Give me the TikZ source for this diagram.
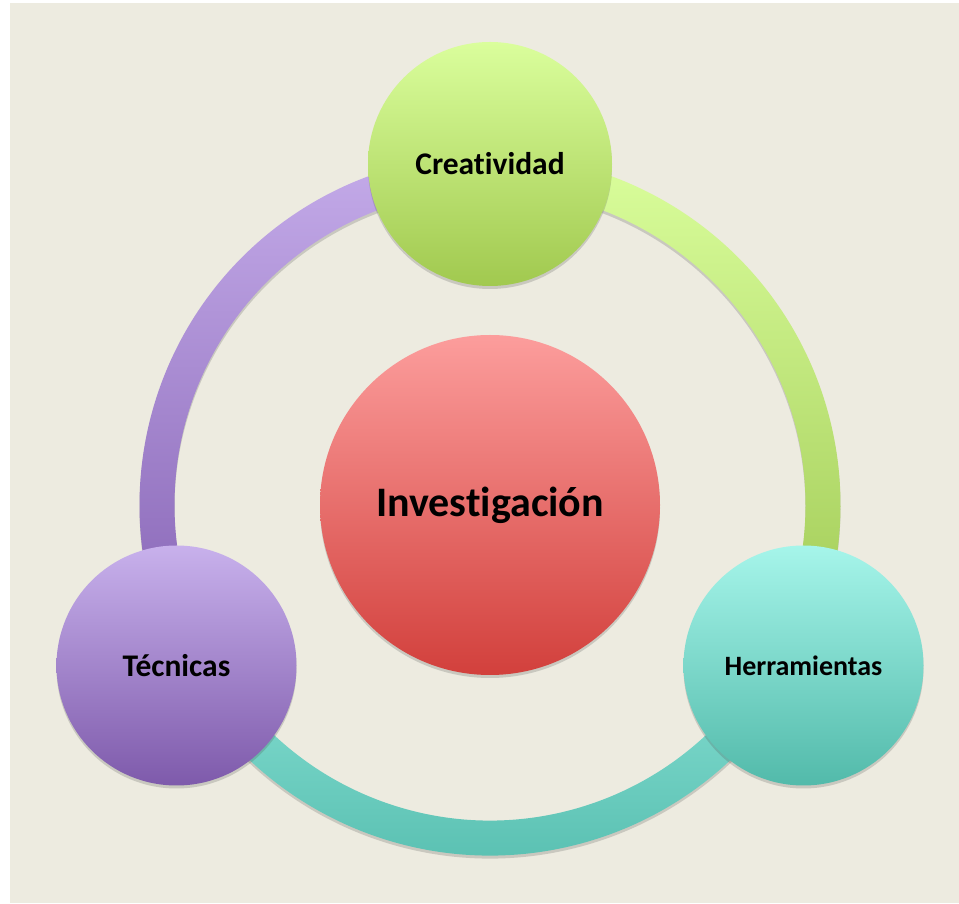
\documentclass[tikz,border=0pt]{standalone}
\usepackage{fontspec}
\setmainfont{Carlito}[Ligatures=CommonOff]
\usepackage{tikz}
\usetikzlibrary{calc,shadows}

\definecolor{bgbeige}{HTML}{EDEBE0}
\definecolor{creaTop}{HTML}{DAFE9C}
\definecolor{creaBot}{HTML}{A1C94F}
\definecolor{invTop}{HTML}{FC9D9C}
\definecolor{invBot}{HTML}{D2403C}
\definecolor{tecTop}{HTML}{C8B1EC}
\definecolor{tecBot}{HTML}{7E5AAB}
\definecolor{herTop}{HTML}{A6F5EA}
\definecolor{herBot}{HTML}{52BAAA}
\definecolor{arcPurTop}{HTML}{C4ABE9}
\definecolor{arcPurBot}{HTML}{8967B7}
\definecolor{arcGrnTop}{HTML}{DAFE9C}
\definecolor{arcGrnBot}{HTML}{A3CC58}
\definecolor{arcTeaTop}{HTML}{8FE5D9}
\definecolor{arcTeaBot}{HTML}{52BBAC}

\tikzset{
  softshadow/.style={drop shadow={shadow xshift=0pt, shadow yshift=-3pt, opacity=0.22, fill=black!70}},
  bubble/.style={circle, inner sep=0pt, softshadow, font=\bfseries\fontsize{31.5}{36}\selectfont},
  ringarc/.style={softshadow}
}

\begin{document}
\begin{tikzpicture}[x=1pt,y=1pt]
    \useasboundingbox (0,0) rectangle (959,903);
    \fill[bgbeige] (10,0) rectangle (959,900);

    \coordinate (ring) at (490,398);

    \foreach \a/\b/\ct/\cb in {95/200/arcPurTop/arcPurBot, 85/-20/arcGrnTop/arcGrnBot, 200/340/arcTeaTop/arcTeaBot} {
        \shade[ringarc, top color=\ct, bottom color=\cb]
            ($(ring)+(\a:350.5pt)$) arc[start angle=\a, end angle=\b, radius=350.5pt]
            -- ($(ring)+(\b:315.5pt)$) arc[start angle=\b, end angle=\a, radius=315.5pt] -- cycle;
    }

    \node[bubble, minimum size=340pt, top color=invTop, bottom color=invBot,
          font=\bfseries\fontsize{42}{48}\selectfont] (investigacion) at (ring) {Investigación};
    \node[bubble, minimum size=244pt, top color=creaTop, bottom color=creaBot] (creatividad) at (490,739) {Creatividad};
    \node[bubble, minimum size=240pt, top color=tecTop, bottom color=tecBot] (tecnicas) at (176.5,237.5) {Técnicas};
    \node[bubble, minimum size=240pt, top color=herTop, bottom color=herBot,
          font=\bfseries\fontsize{28}{32}\selectfont] (herramientas) at (803.5,237.5) {Herramientas};
\end{tikzpicture}
\end{document}
